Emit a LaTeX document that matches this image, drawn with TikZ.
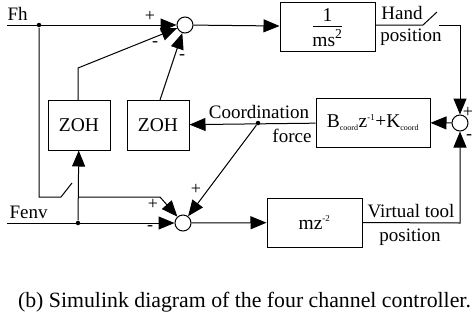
\documentclass[tikz,border=0pt]{standalone}
\usepackage{fontspec}
\setmainfont{Liberation Serif}
\usetikzlibrary{arrows.meta}
\begin{document}
\begin{tikzpicture}[x=1pt,y=-1pt,
  line width=1pt,
  >={Triangle[length=16pt,width=13pt]},
  blk/.style={draw,rectangle,inner sep=0pt,align=center},
  sumc/.style={draw,circle,minimum size=16pt,inner sep=0pt},
  lbl/.style={inner sep=0pt,font=\fontsize{19}{21}\selectfont},
  sgn/.style={inner sep=0pt,font=\fontsize{18}{20}\selectfont},
  dot/.style={fill,circle,inner sep=0pt,minimum size=4.5pt},
  font=\fontsize{19.5}{21}\selectfont]
\useasboundingbox (0,0) rectangle (474,325);
% blocks
\node[sumc] (sT) at (185,25) {};
\node[sumc] (sR) at (460,123) {};
\node[sumc] (sB) at (183,223) {};
\node[blk,minimum width=95pt,minimum height=49pt] (bM) at (327.5,26.5) {};
\node[inner sep=0pt] (one) at (327.5,15) {1};
\node[inner sep=0pt] (ms) at (327.5,38) {ms\textsuperscript{2}};
\draw[line width=0.8pt] (313,26) -- (342,26);
\node[blk,minimum width=114pt,minimum height=49pt] (bC) at (373,122.5) {B\textsubscript{\fontsize{8}{8}\selectfont coord}z\textsuperscript{\fontsize{9}{9}\selectfont -1}+K\textsubscript{\fontsize{8}{8}\selectfont coord}};
\node[blk,minimum width=95pt,minimum height=49pt] (bV) at (314.5,222.5) {mz\textsuperscript{\fontsize{9}{9}\selectfont -2}};
\node[blk,minimum width=62pt,minimum height=50pt] (z1) at (79,125) {ZOH};
\node[blk,minimum width=62pt,minimum height=50pt] (z2) at (158,125) {ZOH};
% coordinates
\coordinate (fhin) at (7,25);
\node[dot] (j1) at (39,25) {};
\coordinate (s1a) at (39,197);
\coordinate (s1b) at (61,197);
\coordinate (s1c) at (72,183);
\coordinate (fein) at (7,223);
\node[dot] (j2) at (78,223) {};
\coordinate (z1up) at (78,68);
\coordinate (bl1) at (78,197);
\coordinate (bl2) at (160,197);
\node[dot] (j3) at (258,123) {};
\coordinate (hp1) at (423,25);
\coordinate (hp2) at (437,12);
\coordinate (hp3) at (439,25);
\coordinate (hp4) at (460,25);
\coordinate (vt1) at (460,223);
% connectors
\draw[->] (fhin) -- (sT);
\draw (j1) -- (s1a) -- (s1b) -- (s1c);
\draw[->] (78,100) -- (z1up) -- (sT);
\draw[->] (160,100) -- (sT);
\draw[->] (sT) -- (bM);
\draw (bM.east |- hp1) -- (hp1) -- (hp2);
\draw[->] (hp3) -- (hp4) -- (sR);
\draw[->] (bV.east) -- (vt1) -- (sR);
\draw[->] (sR) -- (bC);
\draw[->] (bC) -- (z2);
\draw[->] (j3) -- (sB);
\draw[->] (fein) -- (sB);
\draw[->] (sB) -- (bV);
\draw[->] (j2) -- (z1);
\draw[->] (bl1) -- (bl2) -- (sB);
% labels
\node[lbl,anchor=west] (fh) at (7,14) {Fh};
\node[lbl,anchor=west] (fe) at (9,212) {Fenv};
\node[sgn] at (150,16) {+};
\node[sgn] at (155,44) {-};
\node[sgn] at (182,57) {-};
\node[sgn] at (468,112) {+};
\node[sgn] at (469,137) {-};
\node[sgn] at (153,204) {+};
\node[sgn] at (150,228) {-};
\node[sgn] at (196,189) {+};
\node[lbl] at (402,13) {Hand};
\node[lbl] at (411,37) {position};
\node[lbl] at (259,112) {Coordination};
\node[lbl] at (292,136) {force};
\node[lbl] at (411,211) {Virtual tool};
\node[lbl] at (410,237) {position};
\node[inner sep=0pt,font=\fontsize{21.8}{23}\selectfont] (cap) at (244.5,302) {(b) Simulink diagram of the four channel controller.};
\end{tikzpicture}
\end{document}
